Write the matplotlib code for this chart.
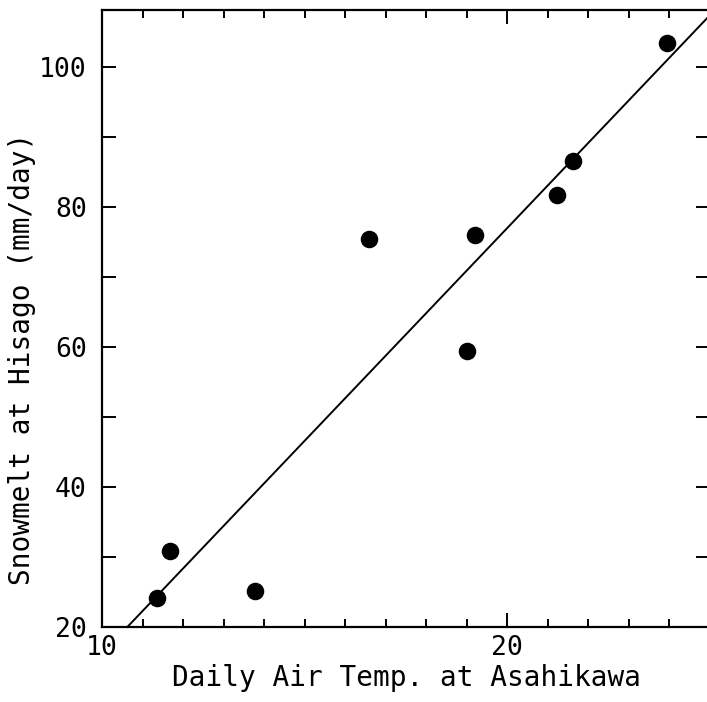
import matplotlib
import matplotlib.pyplot as plt
import numpy as np

matplotlib.use('Agg')

# daily air temperature at Asahikawa (deg C) and snowmelt at Hisago (mm/day)
temp = [11.36, 11.68, 13.78, 16.59, 19.01, 19.21, 21.23, 21.63, 23.95]
melt = [24.1, 30.9, 25.1, 75.4, 59.4, 76.0, 81.7, 86.6, 103.4]

# regression line
slope = 6.08
intercept = -44.6

xticks = [10, 20]
yticks = [20, 40, 60, 80, 100]

plt.rcParams['font.family'] = ['DejaVu Sans Mono', 'DejaVu Sans']

fig = plt.figure(figsize=(7.07, 7.02), dpi=100)
ax = fig.add_axes([102/707, 75/702, 608/707, 617.5/702])

ax.scatter(temp, melt, s=135, color='black', zorder=3, clip_on=False)
lx = np.array([10, 25])
ax.plot(lx, slope*lx + intercept, color='black', lw=1.4)

ax.set_xlim(10, 25)
ax.set_ylim(20, 108.2)
ax.set_xticks(xticks)
ax.set_xticks(np.arange(11, 25, 1), minor=True)
ax.set_yticks(yticks)
ax.set_yticks(np.arange(30, 108, 20), minor=True)

ax.tick_params(which='both', direction='in', top=True, right=True, width=1.4,
               labelsize=19, pad=6)
ax.tick_params(which='major', length=10)
ax.tick_params(which='minor', length=6)
ax.tick_params(axis='y', which='minor', length=10)
ax.tick_params(axis='y', which='major', pad=11)
for s in ax.spines.values():
    s.set_linewidth(1.6)

ax.set_xlabel('Daily Air Temp. at Asahikawa', fontsize=20, labelpad=2)
ax.set_ylabel('Snowmelt at Hisago (mm/day)', fontsize=20)
ax.yaxis.set_label_coords(-0.108, 0.434)

fig.savefig('out.png', dpi=100)
